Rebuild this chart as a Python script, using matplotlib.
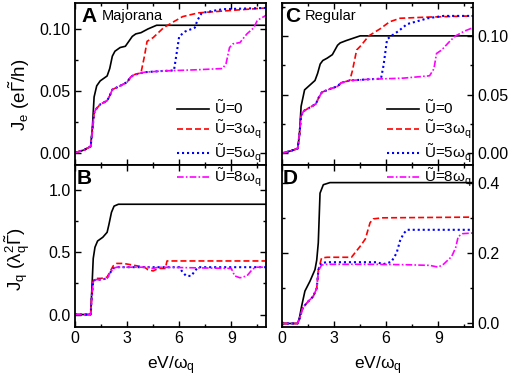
import numpy as np
import matplotlib
matplotlib.use("Agg")
import matplotlib.pyplot as plt
from matplotlib.ticker import MultipleLocator, FormatStrFormatter

plt.rcParams['font.family'] = ['Liberation Sans', 'DejaVu Sans']
plt.rcParams['mathtext.fontset'] = 'custom'
plt.rcParams['mathtext.rm'] = 'Liberation Sans'
plt.rcParams['mathtext.it'] = 'Liberation Sans'
plt.rcParams['mathtext.default'] = 'regular'

######################## data ########################
# Panel A: J_e, Majorana
a0_x = [0, 0.5, 0.9, 1.0, 1.1, 1.25, 1.45, 1.85, 2.0, 2.15, 2.3, 2.6, 2.9, 3.1, 3.3, 3.5, 3.8, 4.2, 4.7, 5.5, 11]
a0_y = [0.000, 0.002, 0.005, 0.02, 0.045, 0.054, 0.058, 0.062, 0.068, 0.078, 0.082, 0.085, 0.086, 0.090, 0.094, 0.096, 0.097, 0.100, 0.103, 0.103, 0.103]
a3_x = [0, 0.5, 0.9, 1.0, 1.1, 1.2, 1.45, 1.85, 2.0, 2.15, 2.6, 3.0, 3.2, 3.4, 3.8, 4.0, 4.15, 4.5, 4.8, 5.1, 5.7, 6.2, 7.1, 9.0, 11]
a3_y = [0, 0.002, 0.005, 0.018, 0.032, 0.035, 0.039, 0.042, 0.046, 0.051, 0.054, 0.057, 0.061, 0.063, 0.0645, 0.078, 0.090, 0.093, 0.097, 0.101, 0.106, 0.110, 0.113, 0.115, 0.117]
a5_x = [0, 0.5, 0.9, 1.0, 1.1, 1.2, 1.45, 1.85, 2.0, 2.15, 2.6, 3.0, 3.2, 3.4, 4.0, 5.0, 5.7, 5.85, 6.0, 6.35, 6.9, 7.05, 7.3, 8.5, 11]
a5_y = [0, 0.002, 0.005, 0.018, 0.032, 0.035, 0.039, 0.042, 0.046, 0.051, 0.054, 0.057, 0.061, 0.063, 0.065, 0.066, 0.0665, 0.080, 0.094, 0.098, 0.101, 0.107, 0.113, 0.116, 0.117]
a8_x = [0, 0.5, 0.9, 1.0, 1.1, 1.2, 1.45, 1.85, 2.0, 2.15, 2.6, 3.0, 3.2, 3.4, 4.0, 5.0, 7.0, 8.5, 8.7, 8.9, 9.1, 9.5, 9.9, 10.3, 10.5, 11]
a8_y = [0, 0.002, 0.005, 0.018, 0.032, 0.035, 0.039, 0.042, 0.046, 0.051, 0.054, 0.057, 0.061, 0.063, 0.065, 0.066, 0.067, 0.068, 0.072, 0.085, 0.088, 0.089, 0.096, 0.101, 0.107, 0.111]

# Panel B: J_q, Majorana
b0_x = [0, 0.9, 0.97, 1.05, 1.15, 1.3, 1.6, 1.85, 1.95, 2.1, 2.25, 2.5, 11]
b0_y = [0, 0, 0.2, 0.45, 0.54, 0.59, 0.62, 0.66, 0.72, 0.82, 0.87, 0.885, 0.885]
b3_x = [0, 0.9, 0.97, 1.05, 1.2, 1.5, 1.85, 2.0, 2.2, 2.4, 2.8, 3.6, 4.0, 4.2, 4.5, 4.8, 5.2, 5.3, 11]
b3_y = [0, 0, 0.15, 0.27, 0.29, 0.29, 0.30, 0.34, 0.39, 0.41, 0.41, 0.39, 0.38, 0.36, 0.35, 0.37, 0.37, 0.43, 0.43]
b5_x = [0, 0.9, 0.97, 1.05, 1.2, 1.5, 1.85, 2.0, 2.2, 2.4, 6.0, 6.2, 6.4, 6.7, 6.9, 7.1, 11]
b5_y = [0, 0, 0.15, 0.27, 0.28, 0.28, 0.29, 0.33, 0.37, 0.38, 0.38, 0.34, 0.31, 0.31, 0.35, 0.38, 0.38]
b8_x = [0, 0.9, 0.97, 1.05, 1.2, 1.5, 1.85, 2.0, 2.2, 2.4, 4.2, 4.5, 4.8, 9.0, 9.2, 9.5, 9.9, 10.2, 10.4, 11]
b8_y = [0, 0, 0.15, 0.27, 0.28, 0.28, 0.29, 0.33, 0.37, 0.38, 0.38, 0.37, 0.38, 0.37, 0.31, 0.295, 0.31, 0.36, 0.38, 0.38]

# Panel C: J_e, Regular
c0_x = [0, 0.5, 0.9, 1.0, 1.1, 1.3, 1.6, 1.9, 2.05, 2.2, 2.35, 2.6, 2.9, 3.05, 3.2, 3.35, 3.7, 4.1, 4.5, 5.2, 11]
c0_y = [0, 0.002, 0.004, 0.015, 0.040, 0.054, 0.058, 0.062, 0.068, 0.076, 0.079, 0.081, 0.084, 0.088, 0.092, 0.094, 0.096, 0.098, 0.100, 0.100, 0.100]
c3_x = [0, 0.5, 0.9, 1.0, 1.1, 1.25, 1.6, 1.95, 2.1, 2.3, 2.8, 3.2, 3.4, 3.9, 4.05, 4.3, 4.5, 4.67, 5.0, 5.65, 6.2, 6.8, 8.4, 11]
c3_y = [0, 0.002, 0.004, 0.015, 0.032, 0.036, 0.039, 0.042, 0.047, 0.052, 0.055, 0.057, 0.060, 0.062, 0.070, 0.088, 0.091, 0.094, 0.100, 0.106, 0.112, 0.115, 0.116, 0.117]
c5_x = [0, 0.5, 0.9, 1.0, 1.1, 1.25, 1.6, 1.95, 2.1, 2.3, 2.8, 3.2, 3.4, 3.9, 5.0, 5.7, 5.85, 6.05, 6.3, 6.7, 7.2, 8.4, 9.3, 11]
c5_y = [0, 0.002, 0.004, 0.015, 0.032, 0.036, 0.039, 0.042, 0.047, 0.052, 0.055, 0.057, 0.060, 0.062, 0.063, 0.0635, 0.075, 0.097, 0.100, 0.104, 0.110, 0.115, 0.117, 0.117]
c8_x = [0, 0.5, 0.9, 1.0, 1.1, 1.25, 1.6, 1.95, 2.1, 2.3, 2.8, 3.2, 3.4, 3.9, 5.0, 7.0, 8.5, 8.75, 8.9, 9.2, 9.7, 10.0, 10.5, 11]
c8_y = [0, 0.002, 0.004, 0.015, 0.032, 0.036, 0.039, 0.042, 0.047, 0.052, 0.055, 0.057, 0.060, 0.062, 0.063, 0.064, 0.066, 0.072, 0.085, 0.088, 0.096, 0.100, 0.104, 0.107]

# Panel D: J_q, Regular
d0_x = [0, 0.9, 1.0, 1.13, 1.32, 1.61, 1.9, 2.0, 2.09, 2.19, 2.38, 2.76, 11]
d0_y = [0, 0, 0.015, 0.049, 0.092, 0.12, 0.153, 0.18, 0.229, 0.37, 0.394, 0.40, 0.40]
d3_x = [0, 0.9, 1.0, 1.2, 1.5, 1.8, 2.0, 2.1, 2.28, 2.6, 4.0, 4.5, 4.8, 5.07, 5.25, 5.8, 11]
d3_y = [0, 0, 0.012, 0.045, 0.062, 0.077, 0.1, 0.153, 0.186, 0.188, 0.188, 0.219, 0.24, 0.286, 0.297, 0.30, 0.302]
d5_x = [0, 0.9, 1.0, 1.2, 1.5, 1.8, 2.0, 2.1, 2.28, 2.6, 5.5, 5.8, 6.3, 6.6, 6.8, 7.0, 7.2, 11]
d5_y = [0, 0, 0.012, 0.045, 0.062, 0.077, 0.1, 0.153, 0.172, 0.174, 0.174, 0.168, 0.175, 0.2, 0.235, 0.255, 0.266, 0.266]
d8_x = [0, 0.9, 1.0, 1.2, 1.5, 1.8, 2.0, 2.1, 2.28, 2.6, 5.0, 7.0, 8.5, 9.0, 9.3, 9.77, 10.0, 10.15, 10.4, 11]
d8_y = [0, 0, 0.012, 0.045, 0.062, 0.077, 0.1, 0.15, 0.166, 0.168, 0.168, 0.167, 0.165, 0.160, 0.168, 0.19, 0.215, 0.247, 0.255, 0.257]

labels = [r'$\tilde{U}$=0', r'$\tilde{U}$=3$\omega_q$', r'$\tilde{U}$=5$\omega_q$', r'$\tilde{U}$=8$\omega_q$']
colors = ['black', '#ff0000', '#0000ff', '#ff00ff']
styles = ['-', (0, (3.6, 1.8)), (0, (1, 1.4)), (0, (4, 1.3, 1, 1.3))]

######################## figure ########################
fig = plt.figure(figsize=(5.12, 3.8), dpi=100)
W, H = 512, 380

def add_ax(left, top, right, bottom):
    return fig.add_axes([left / W, 1 - bottom / H, (right - left) / W, (bottom - top) / H])

axA = add_ax(75, 3, 266, 165)
axB = add_ax(75, 165, 266, 327)
axC = add_ax(282, 3, 473, 165)
axD = add_ax(282, 165, 473, 327)

panels = [
    (axA, [(a0_x, a0_y), (a3_x, a3_y), (a5_x, a5_y), (a8_x, a8_y)]),
    (axB, [(b0_x, b0_y), (b3_x, b3_y), (b5_x, b5_y), (b8_x, b8_y)]),
    (axC, [(c0_x, c0_y), (c3_x, c3_y), (c5_x, c5_y), (c8_x, c8_y)]),
    (axD, [(d0_x, d0_y), (d3_x, d3_y), (d5_x, d5_y), (d8_x, d8_y)]),
]

for ax, curves in panels:
    for (x, y), c, ls, lab in zip(curves, colors, styles, labels):
        lw = 1.5 if ls == (0, (1, 1.4)) else 1.2
        ax.plot(x, y, color=c, linestyle=ls, linewidth=lw, label=lab)
    ax.set_xlim(0, 11)
    ax.xaxis.set_major_locator(MultipleLocator(3))
    ax.xaxis.set_minor_locator(MultipleLocator(1.5))
    for s in ax.spines.values():
        s.set_linewidth(1.3)
    ax.tick_params(which='both', direction='in', top=True, right=True, left=True, bottom=True,
                   labelsize=11.5, width=1.0, pad=3)
    ax.tick_params(which='major', length=4)
    ax.tick_params(which='minor', length=2.5)

axA.set_ylim(-0.01, 0.121)
axC.set_ylim(-0.01, 0.128)
for ax in (axA, axC):
    ax.yaxis.set_major_locator(MultipleLocator(0.05))
    ax.yaxis.set_minor_locator(MultipleLocator(0.025))
    ax.yaxis.set_major_formatter(FormatStrFormatter('%.2f'))
    ax.tick_params(labelbottom=False)

axB.set_ylim(-0.1, 1.2)
axB.yaxis.set_major_locator(MultipleLocator(0.5))
axB.yaxis.set_minor_locator(MultipleLocator(0.25))
axB.yaxis.set_major_formatter(FormatStrFormatter('%.1f'))

axD.set_ylim(-0.01, 0.45)
axD.yaxis.set_major_locator(MultipleLocator(0.2))
axD.yaxis.set_minor_locator(MultipleLocator(0.1))
axD.yaxis.set_major_formatter(FormatStrFormatter('%.1f'))

for ax in (axC, axD):
    ax.tick_params(labelleft=False, labelright=True)

axA.set_ylabel(r'J$_e$ (e$\tilde{\Gamma}$/h)', fontsize=13.5)
axB.set_ylabel(r'J$_q$ ($\lambda_q^2\tilde{\Gamma}$)', fontsize=13.5)
axA.yaxis.set_label_coords(-0.225, 0.43)
axB.yaxis.set_label_coords(-0.225, 0.42)
for ax in (axB, axD):
    ax.set_xlabel(r'eV/$\omega_q$', fontsize=12.5, labelpad=6)

# panel letters
for ax, letter, xx in [(axA, 'A', 0.035), (axB, 'B', 0.01), (axC, 'C', 0.015), (axD, 'D', 0.005)]:
    ax.text(xx, 0.975, letter, transform=ax.transAxes, fontsize=15, fontweight='bold', va='top', ha='left')
axA.text(0.14, 0.96, 'Majorana', transform=axA.transAxes, fontsize=10.5, va='top', ha='left')
axC.text(0.12, 0.96, 'Regular', transform=axC.transAxes, fontsize=10.5, va='top', ha='left')

# legends (drawn on figure so they can run over the lower panels)
for ax, x0 in [(axA, 177), (axC, 387)]:
    h, l = ax.get_legend_handles_labels()
    fig.legend(h, l, loc='upper left', bbox_to_anchor=(x0 / W, 1 - 99 / H), frameon=False,
               fontsize=11, handlelength=2.1, handletextpad=0.3, labelspacing=0.12,
               borderpad=0, borderaxespad=0)

fig.savefig('out.png', dpi=100)
